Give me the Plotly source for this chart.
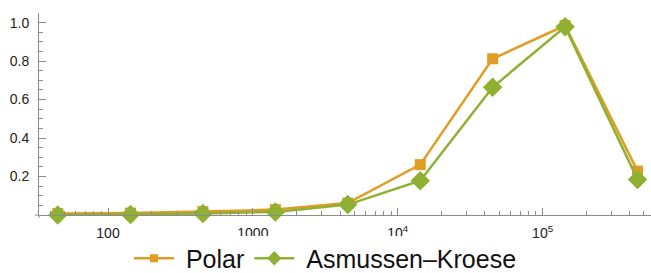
import plotly.graph_objects as go
import numpy as np

x_vals = [45, 143, 452, 1430, 4520, 14300, 45200, 143000, 452000]
polar = [0.008, 0.010, 0.018, 0.028, 0.062, 0.262, 0.812, 0.985, 0.228]
asmussen = [0.0, 0.003, 0.008, 0.016, 0.054, 0.178, 0.664, 0.978, 0.185]

x_tickvals = [100, 1000, 10000, 100000]
x_ticktext = ["100", "1000", "10<sup>4</sup>", "10<sup>5</sup>"]
y_tickvals = [0.2, 0.4, 0.6, 0.8, 1.0]
y_ticktext = ["0.2", "0.4", "0.6", "0.8", "1.0"]
series_names = ["Polar", "Asmussen\u2013Kroese"]

orange = "#E19C24"
green = "#8FB032"

fig = go.Figure()
fig.add_trace(go.Scatter(x=x_vals, y=polar, name=series_names[0], mode="lines+markers",
                         line=dict(color=orange, width=2.5),
                         marker=dict(symbol="square", size=11, color=orange),
                         cliponaxis=False, showlegend=False))
fig.add_trace(go.Scatter(x=x_vals, y=asmussen, name=series_names[1], mode="lines+markers",
                         line=dict(color=green, width=2.5),
                         marker=dict(symbol="diamond", size=15, color=green),
                         cliponaxis=False, showlegend=False))
# legend entries (smaller symbols, as in the reference legend)
fig.add_trace(go.Scatter(x=[None], y=[None], name="\u00a0" + series_names[0], mode="lines+markers",
                         line=dict(color=orange, width=2.5),
                         marker=dict(symbol="square", size=8, color=orange)))
fig.add_trace(go.Scatter(x=[None], y=[None], name="\u00a0" + series_names[1], mode="lines+markers",
                         line=dict(color=green, width=2.5),
                         marker=dict(symbol="diamond", size=11, color=green)))

minor_x = []
for d in [10, 100, 1000, 10000, 100000]:
    for m in range(2, 10):
        minor_x.append(m * d)
minor_y = [round(0.05 * i, 2) for i in range(0, 22) if i % 4 != 0]

H, T, B = 273, 13, 58
plot_h = H - T - B
axis_color = "#8c8c8c"
fig.update_layout(
    width=651, height=H,
    margin=dict(l=39, r=0, t=T, b=B, autoexpand=False),
    plot_bgcolor="white", paper_bgcolor="white",
    font=dict(family="Liberation Sans, Arial, sans-serif", color="#222"),
    showlegend=True,
    legend=dict(orientation="h", x=0.5, xanchor="center", xref="container",
                y=-(258.5 - (H - B)) / plot_h, yanchor="middle",
                font=dict(size=25, color="#111"), itemwidth=40, tracegroupgap=0),
    xaxis=dict(type="log", range=[np.log10(33.4), np.log10(560000)],
               showgrid=False, zeroline=False, showline=True, linecolor=axis_color, linewidth=1,
               ticks="inside", ticklen=7, tickcolor=axis_color, ticklabelstandoff=5,
               tickmode="array", tickvals=x_tickvals, ticktext=x_ticktext,
               tickfont=dict(size=14),
               minor=dict(tickmode="array", tickvals=minor_x, ticks="inside", ticklen=4,
                          tickcolor=axis_color, showgrid=False)),
    yaxis=dict(range=[0, 1.05], showgrid=False, zeroline=False, showline=True,
               linecolor=axis_color, linewidth=1,
               ticks="inside", ticklen=7, tickcolor=axis_color, ticklabelstandoff=6,
               tickmode="array", tickvals=y_tickvals, ticktext=y_ticktext,
               tickfont=dict(size=14),
               minor=dict(tickmode="array", tickvals=minor_y, ticks="inside", ticklen=4,
                          tickcolor=axis_color, showgrid=False)),
)
# small axis extensions like the reference
fig.add_shape(type="line", xref="paper", yref="paper", x0=-0.007, x1=0, y0=0, y1=0,
              line=dict(color=axis_color, width=1))
fig.add_shape(type="line", xref="paper", yref="paper", x0=0, x1=0, y0=-0.015, y1=0,
              line=dict(color=axis_color, width=1))

fig.write_html("out.html", config={"displayModeBar": False},
               post_script="document.body.style.margin='0';document.body.style.overflow='hidden';")
